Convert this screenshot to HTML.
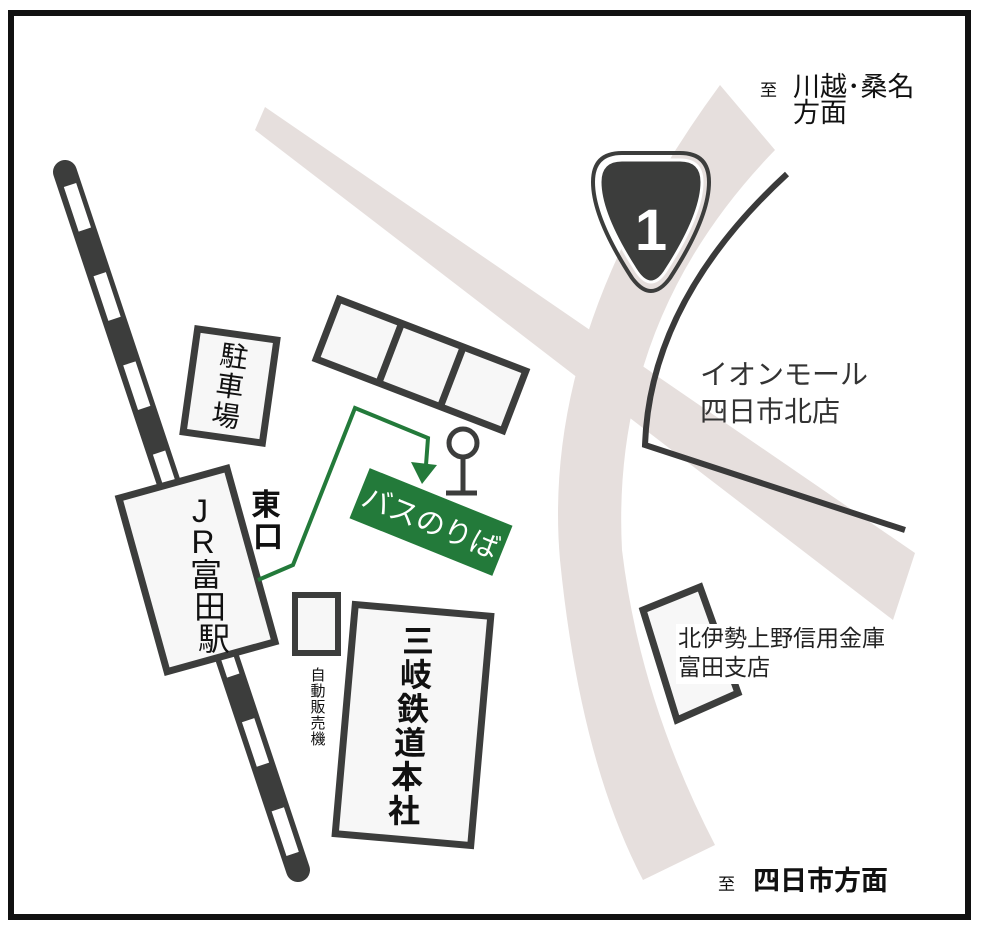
<!DOCTYPE html>
<html><head><meta charset="utf-8"><style>
html,body{margin:0;padding:0;background:#fff;}
svg{display:block;}
text{font-family:"Liberation Sans","Noto Sans CJK JP",sans-serif;}
</style></head><body>
<svg width="987" height="940" viewBox="0 0 987 940" xmlns="http://www.w3.org/2000/svg">
<rect x="0" y="0" width="987" height="940" fill="#fff"/>
<rect x="11" y="13" width="957" height="904" fill="#fff" stroke="#111" stroke-width="6"/>
<!-- roads -->
<polygon points="265,107 915,553 893,620 255,130" fill="#e6dfdd"/>
<path d="M720,85 Q540,330 560,560 Q580,760 643,880 L715,845 Q640,700 622,550 Q610,320 775,150 Z" fill="#e6dfdd"/>
<!-- dark road lines -->
<path d="M787,174 Q650,300 645,445 L905,530" fill="none" stroke="#3a3a3a" stroke-width="6"/>
<!-- route 1 badge -->
<path d="M600,182 Q600,160 622,160 L680,160 Q702,160 702,182 Q702,215 665,272 Q651,292 637,272 Q600,215 600,182 Z" fill="#3c3d3c" stroke="#fff" stroke-width="3"/>
<path d="M593,182 Q593,153 622,153 L680,153 Q709,153 709,182 Q709,218 670,278 Q651,304 632,278 Q593,218 593,182 Z" fill="none" stroke="#3c3d3c" stroke-width="4"/>
<text x="651" y="250" font-size="58" font-weight="bold" fill="#fff" text-anchor="middle">1</text>
<!-- railway -->
<line x1="65" y1="172" x2="298" y2="870" stroke="#3c3d3c" stroke-width="24" stroke-linecap="round"/>
<line x1="70" y1="185" x2="294" y2="858" stroke="#fff" stroke-width="13" stroke-dasharray="47 47"/>
<!-- station -->
<g transform="translate(197,570) rotate(-15.5)">
<rect x="-56" y="-90" width="112" height="180" fill="#f7f7f7" stroke="#3c3d3c" stroke-width="7"/>
</g>
<g font-size="32" fill="#111" text-anchor="middle">
<text x="200" y="522">J</text><text x="203" y="553">R</text><text x="206" y="586">富</text><text x="210" y="618">田</text><text x="214" y="650">駅</text>
</g>
<!-- east exit -->
<g font-size="30" font-weight="bold" fill="#111" text-anchor="middle">
<text x="266" y="515">東</text><text x="268" y="547">口</text></g>
<!-- parking -->
<g transform="translate(230,386) rotate(8)">
<rect x="-40" y="-52" width="80" height="104" fill="#f7f7f7" stroke="#3c3d3c" stroke-width="7"/>
<g font-size="28" fill="#111" text-anchor="middle"><text x="0" y="-20">駐</text><text x="0" y="10">車</text><text x="0" y="40">場</text></g>
</g>
<!-- three boxes -->
<g transform="translate(421,365) rotate(21)">
<rect x="-100" y="-32" width="200" height="64" fill="#f7f7f7" stroke="#3c3d3c" stroke-width="7"/>
<line x1="-33" y1="-32" x2="-33" y2="32" stroke="#3c3d3c" stroke-width="7"/>
<line x1="33" y1="-32" x2="33" y2="32" stroke="#3c3d3c" stroke-width="7"/>
</g>
<!-- green route -->
<polyline points="258,580 293,565 355,408 428,438 426,465" fill="none" stroke="#237a3a" stroke-width="4"/>
<polygon points="411,462 437,465 422,484" fill="#237a3a"/>
<!-- bus stop -->
<circle cx="463" cy="443" r="14" fill="none" stroke="#3c3d3c" stroke-width="5"/>
<line x1="463" y1="457" x2="463" y2="492" stroke="#3c3d3c" stroke-width="5"/>
<line x1="446" y1="493" x2="477" y2="493" stroke="#3c3d3c" stroke-width="5"/>
<!-- bus label -->
<g transform="translate(431,522) rotate(22)">
<rect x="-77" y="-27" width="154" height="54" fill="#237a3a"/>
<text x="0" y="11" font-size="29" fill="#fff" text-anchor="middle">バスのりば</text>
</g>
<!-- vending -->
<rect x="295" y="595" width="43" height="58" fill="#f7f7f7" stroke="#3c3d3c" stroke-width="6"/>
<g font-size="15" fill="#111" text-anchor="middle"><text x="318" y="680">自</text><text x="318" y="696">動</text><text x="318" y="712">販</text><text x="318" y="728">売</text><text x="318" y="744">機</text></g>
<!-- sangi -->
<g transform="translate(413,725) rotate(5)">
<rect x="-68" y="-115" width="136" height="230" fill="#f7f7f7" stroke="#3c3d3c" stroke-width="7"/>
</g>
<g font-size="32" font-weight="bold" fill="#111" text-anchor="middle"><text x="418" y="652">三</text><text x="416" y="686">岐</text><text x="413" y="720">鉄</text><text x="410" y="754">道</text><text x="407" y="788">本</text><text x="404" y="822">社</text></g>
<!-- bank -->
<polygon points="643,610 700,587 738,693 677,720" fill="#f7f7f7" stroke="#3c3d3c" stroke-width="7"/>
<rect x="676" y="624" width="240" height="60" fill="#fff"/>
<g font-size="23" fill="#222"><text x="678" y="646">北伊勢上野信用金庫</text><text x="678" y="675">富田支店</text></g>
<!-- aeon -->
<g font-size="28" fill="#333"><text x="700" y="384">イオンモール</text><text x="700" y="421">四日市北店</text></g>
<!-- direction labels -->
<text x="760" y="96" font-size="17" fill="#111">至</text>
<g font-size="27" fill="#111"><text x="793" y="96">川越･桑名</text><text x="793" y="122">方面</text></g>
<text x="718" y="890" font-size="17" fill="#111">至</text>
<text x="753" y="890" font-size="27" font-weight="bold" fill="#111">四日市方面</text>
</svg>
</body></html>
